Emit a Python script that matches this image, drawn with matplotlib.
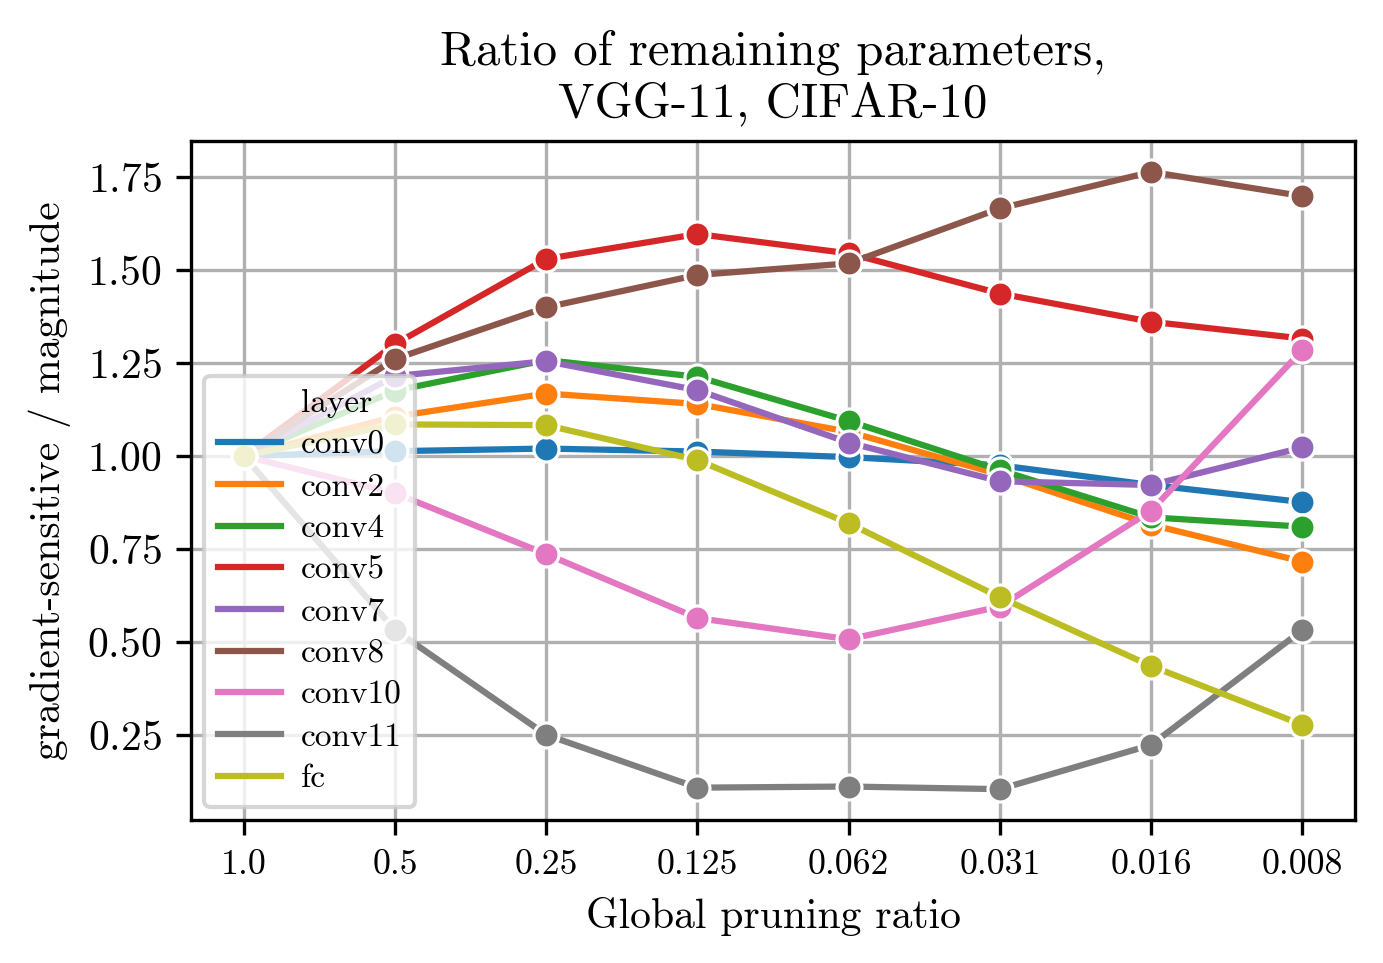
import numpy as np
import matplotlib
matplotlib.use("Agg")
from matplotlib import pyplot as plt
from matplotlib.lines import Line2D

plt.rcParams['font.family'] = 'serif'
plt.rcParams['font.serif'] = ['cmr10']
plt.rcParams['mathtext.fontset'] = 'cm'
plt.rcParams['axes.formatter.use_mathtext'] = True

# Global pruning ratios (categorical x axis)
ratios = ['1.0', '0.5', '0.25', '0.125', '0.062', '0.031', '0.016', '0.008']

layers = ['conv0', 'conv2', 'conv4', 'conv5', 'conv7', 'conv8', 'conv10', 'conv11', 'fc']

conv0 = [1.0, 1.013, 1.02, 1.012, 0.997, 0.975, 0.922, 0.876]
conv2 = [1.0, 1.106, 1.168, 1.14, 1.065, 0.95, 0.815, 0.716]
conv4 = [1.0, 1.176, 1.258, 1.213, 1.094, 0.962, 0.835, 0.81]
conv5 = [1.0, 1.301, 1.53, 1.597, 1.545, 1.437, 1.361, 1.316]
conv7 = [1.0, 1.215, 1.255, 1.177, 1.036, 0.932, 0.922, 1.023]
conv8 = [1.0, 1.261, 1.40, 1.487, 1.518, 1.666, 1.764, 1.699]
conv10 = [1.0, 0.90, 0.736, 0.564, 0.507, 0.595, 0.853, 1.285]
conv11 = [1.0, 0.532, 0.25, 0.108, 0.111, 0.104, 0.223, 0.532]
fc = [1.0, 1.085, 1.083, 0.989, 0.819, 0.62, 0.435, 0.277]

series = [conv0, conv2, conv4, conv5, conv7, conv8, conv10, conv11, fc]
colors = plt.get_cmap('tab10').colors

fig = plt.figure(figsize=(1383 / 300, 963 / 300), dpi=300)
ax = fig.add_axes([0.138, 0.1485, 0.842, 0.705])

x = np.arange(len(ratios))
handles = [Line2D([], [], color='none', label='layer')]
for name, vals, col in zip(layers, series, colors):
    ax.plot(x, vals, color=col, lw=1.5, marker='o', markersize=6,
            markeredgecolor='white', markeredgewidth=0.75)
    handles.append(Line2D([], [], color=col, lw=1.5, label=name))

ax.set_xticks(x)
ax.set_xticklabels(ratios, fontsize=8.6)
ax.tick_params(axis='y', labelsize=10)
ax.grid(True, color='#b0b0b0', lw=0.8)
ax.set_axisbelow(True)

ax.set_xlabel('Global pruning ratio', fontsize=10)
ax.set_ylabel('gradient-sensitive / magnitude', fontsize=10)
ax.set_title('Ratio of remaining parameters,\nVGG-11, CIFAR-10', fontsize=11.7)

ax.legend(handles=handles, loc='lower left', fontsize=8, labelspacing=0.37,
          handlelength=1.9, handletextpad=0.6, borderaxespad=0.4)

fig.savefig('out.png', dpi=300)
